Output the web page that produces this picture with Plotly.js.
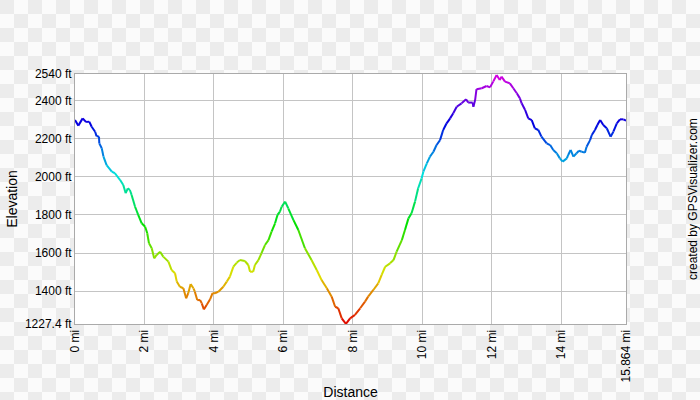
<!DOCTYPE html>
<html>
<head>
<meta charset="utf-8">
<script src="https://cdn.plot.ly/plotly-3.0.1.min.js"></script>
<style>
html,body{margin:0;padding:0;background:#fbfbfb;}
#chart{width:700px;height:400px;
  background-color:#fbfbfb;
  background-image:
    linear-gradient(45deg,#ececec 25%,transparent 25%,transparent 75%,#ececec 75%,#ececec),
    linear-gradient(45deg,#ececec 25%,transparent 25%,transparent 75%,#ececec 75%,#ececec);
  background-size:28px 28px;
  background-position:14px 0,0 14px;}
</style>
</head>
<body>
<div id="chart"></div>
<script>
// Distance (mi) and elevation (ft)
const distance = [0,0.095,0.22,0.32,0.41,0.48,0.58,0.62,0.69,0.70,0.77,0.82,0.91,1.06,1.15,1.30,1.39,1.46,1.52,1.58,1.63,1.73,1.82,1.92,2.02,2.08,2.13,2.21,2.28,2.35,2.45,2.54,2.69,2.78,2.88,2.93,3.02,3.12,3.20,3.26,3.33,3.41,3.45,3.52,3.60,3.65,3.71,3.79,3.89,3.96,4.03,4.13,4.27,4.37,4.46,4.56,4.66,4.75,4.89,4.99,5.04,5.13,5.18,5.28,5.37,5.47,5.57,5.66,5.76,5.83,5.90,5.95,6.05,6.14,6.29,6.43,6.62,6.81,6.96,7.10,7.25,7.39,7.49,7.58,7.68,7.80,7.92,8.06,8.21,8.35,8.44,8.59,8.73,8.83,8.93,9.07,9.17,9.26,9.41,9.50,9.60,9.69,9.79,9.88,9.98,10.03,10.13,10.22,10.32,10.41,10.51,10.60,10.70,10.80,10.89,10.99,11.13,11.26,11.32,11.45,11.47,11.52,11.56,11.71,11.85,11.95,12.04,12.14,12.23,12.28,12.38,12.52,12.62,12.72,12.81,12.86,12.96,13.05,13.15,13.24,13.34,13.43,13.58,13.68,13.77,13.87,13.96,14.04,14.16,14.20,14.27,14.35,14.44,14.51,14.59,14.68,14.73,14.83,14.88,14.97,15.04,15.12,15.21,15.31,15.42,15.50,15.60,15.69,15.79,15.864];
const elevation = [2298,2269,2307,2288,2290,2263,2237,2214,2211,2176,2150,2106,2062,2027,2019,1983,1957,1914,1940,1931,1905,1843,1800,1756,1738,1704,1651,1625,1572,1590,1607,1581,1555,1511,1494,1450,1423,1415,1362,1389,1437,1415,1397,1353,1353,1336,1304,1327,1357,1389,1389,1397,1423,1450,1476,1529,1550,1563,1558,1537,1502,1502,1537,1563,1599,1642,1668,1712,1756,1800,1817,1843,1870,1835,1773,1721,1625,1563,1511,1458,1415,1371,1318,1310,1257,1228,1257,1275,1310,1345,1371,1406,1441,1485,1528,1546,1563,1607,1668,1721,1782,1809,1870,1940,1992,2027,2071,2106,2132,2167,2193,2246,2281,2307,2334,2368,2386,2407,2390,2390,2368,2403,2460,2465,2477,2470,2500,2535,2508,2526,2500,2491,2465,2439,2412,2386,2351,2307,2298,2255,2246,2211,2176,2167,2141,2124,2097,2080,2097,2115,2141,2106,2124,2137,2132,2127,2158,2193,2220,2246,2272,2298,2272,2255,2211,2237,2281,2302,2302,2295];

const yTickVals = [1227.4,1400,1600,1800,2000,2200,2400,2540];
const yTickText = ['1227.4 ft','1400 ft','1600 ft','1800 ft','2000 ft','2200 ft','2400 ft','2540 ft'];
const xTickVals = [0,2,4,6,8,10,12,14,15.864];
const xTickText = ['0 mi','2 mi','4 mi','6 mi','8 mi','10 mi','12 mi','14 mi','15.864 mi'];

const yMin = 1227.4, yMax = 2540, xMax = 15.864;

function colorFor(e){
  const t = Math.max(0, Math.min(1, (e - yMin) / (yMax - yMin)));
  return 'hsl(' + (t * 300).toFixed(1) + ',100%,44%)';
}

const traces = [];
for (let i = 0; i < distance.length - 1; i++) {
  traces.push({
    type: 'scatter', mode: 'lines',
    x: [distance[i], distance[i+1]],
    y: [elevation[i], elevation[i+1]],
    line: {color: colorFor((elevation[i] + elevation[i+1]) / 2), width: 2},
    hoverinfo: 'skip', showlegend: false
  });
}

const L = 75, R = 74, T = 74, B = 76;
const pw = 700 - L - R, ph = 400 - T - B;

const layout = {
  width: 700, height: 400,
  margin: {l: L, r: R, t: T, b: B, pad: 0},
  paper_bgcolor: 'rgba(0,0,0,0)',
  plot_bgcolor: '#ffffff',
  font: {family: 'Liberation Sans, Arial, sans-serif', size: 11, color: '#000'},
  xaxis: {
    range: [0, xMax],
    tickvals: xTickVals, ticktext: xTickText,
    tickangle: -90,
    showgrid: true, gridcolor: '#c4c4c4', gridwidth: 1,
    zeroline: false,
    showline: true, linecolor: '#aaaaaa', linewidth: 1, mirror: true,
    ticks: '', ticklen: 0,
    tickfont: {size: 12, family: 'Liberation Sans, Arial, sans-serif'},
    title: {text: 'Distance', font: {size: 14}, standoff: 10},
    fixedrange: true
  },
  yaxis: {
    range: [yMin, yMax],
    tickvals: yTickVals, ticktext: yTickText,
    showgrid: true, gridcolor: '#c4c4c4', gridwidth: 1,
    zeroline: false,
    showline: true, linecolor: '#aaaaaa', linewidth: 1, mirror: true,
    ticks: '', ticklen: 0,
    tickfont: {size: 12, family: 'Liberation Sans, Arial, sans-serif'},
    title: {text: 'Elevation', font: {size: 14}, standoff: 3},
    fixedrange: true
  },
  annotations: [{
    text: 'created by GPSVisualizer.com',
    xref: 'paper', yref: 'paper',
    x: 1 + 67 / pw, y: 0.5,
    xanchor: 'center', yanchor: 'middle',
    textangle: -90, showarrow: false,
    font: {size: 12, color: '#000'}
  }]
};

Plotly.newPlot('chart', traces, layout, {displayModeBar: false, staticPlot: true});
</script>
</body>
</html>
